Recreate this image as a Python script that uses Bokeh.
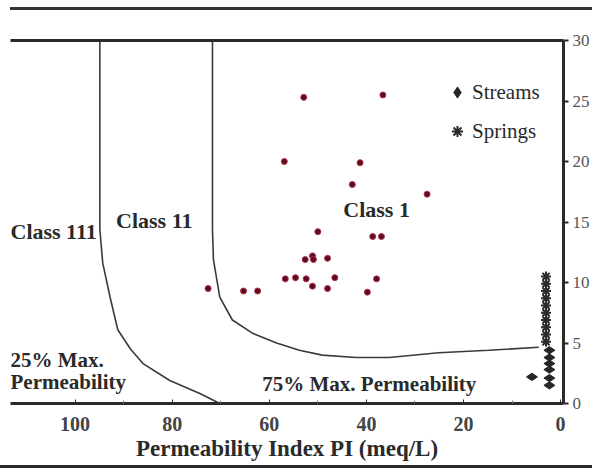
import math
from bokeh.plotting import figure
from bokeh.models import (Range1d, LinearAxis, FixedTicker, Legend, LegendItem,
                          Div, Label)
from bokeh.layouts import column
from bokeh.embed import file_html
from bokeh.resources import INLINE

# ---------------- data ----------------
# reference points (dark red dots): Permeability index PI, total concentration
ref_pi = [52.9, 36.6, 56.9, 41.3, 42.9, 27.5, 50.0, 38.7, 36.9, 51.1, 52.6, 50.9,
          48.0, 56.7, 54.6, 52.4, 51.1, 46.5, 37.9, 48.0, 39.8, 72.6, 65.3, 62.4]
ref_tc = [25.3, 25.5, 20.0, 19.9, 18.1, 17.3, 14.2, 13.8, 13.8, 12.2, 11.9, 11.9,
          12.0, 10.3, 10.4, 10.3, 9.7, 10.4, 10.3, 9.5, 9.2, 9.5, 9.3, 9.3]

streams_pi = [2.3, 2.3, 2.3, 2.3, 2.3, 2.3, 5.9]
streams_tc = [4.4, 3.8, 3.3, 2.8, 2.1, 1.5, 2.2]

springs_pi = [3.0, 3.0, 3.0, 3.0, 3.0, 3.0, 3.0, 3.0, 3.0, 3.0]
springs_tc = [10.5, 9.9, 9.3, 8.7, 8.1, 7.5, 6.9, 6.3, 5.7, 5.1]

# class boundary curves (Doneen)
curve25_pi = [94.9, 94.9, 94.3, 92.8, 91.2, 88.6, 86.0, 80.5, 74.3, 70.2]
curve25_tc = [30.0, 14.4, 11.6, 8.8, 6.1, 4.5, 3.3, 1.9, 0.83, 0.0]
curve75_pi = [71.7, 71.7, 71.5, 70.2, 67.6, 63.4, 58.5, 53.8, 49.1, 42.1, 35.3, 25.1, 14.8, 4.5]
curve75_tc = [30.0, 14.4, 11.9, 8.8, 6.9, 5.8, 5.0, 4.4, 4.0, 3.8, 3.8, 4.2, 4.4, 4.65]

x_ticks = [100, 80, 60, 40, 20, 0]
y_ticks = [0, 5, 10, 15, 20, 25, 30]

FONT = "Liberation Serif"
INK = "#2a2a2a"

p = figure(width=592, height=455, output_backend="svg", toolbar_location=None,
           x_range=Range1d(113.3, -0.6), y_range=Range1d(0, 30),
           y_axis_location="right",
           min_border_left=10, min_border_right=27, min_border_top=30, min_border_bottom=62)
p.outline_line_color = None
p.xgrid.visible = False
p.ygrid.visible = False
p.background_fill_color = "white"
p.border_fill_color = "white"

# top frame line
top_axis = LinearAxis(ticker=FixedTicker(ticks=[]), axis_line_width=3, axis_line_color=INK,
                      major_tick_line_color=None, minor_tick_line_color=None,
                      major_label_text_font_size="0px")
p.add_layout(top_axis, "above")

# bottom axis
xa = p.below[0]
xa.ticker = FixedTicker(ticks=x_ticks, minor_ticks=[90, 70, 50, 30, 10])
xa.axis_line_width = 3
xa.axis_line_color = INK
xa.major_tick_in = 4
xa.major_tick_out = 1
xa.minor_tick_in = 3
xa.minor_tick_out = 0
xa.major_tick_line_color = INK
xa.minor_tick_line_color = "#777777"
xa.major_label_text_font = FONT
xa.major_label_text_font_size = "20px"
xa.major_label_text_font_style = "bold"
xa.major_label_text_color = "#444444"
xa.major_label_standoff = 12
xa.axis_label = "Permeability Index PI (meq/L)"
xa.axis_label_text_font = FONT
xa.axis_label_text_font_size = "23px"
xa.axis_label_text_font_style = "bold"
xa.axis_label_text_color = INK
xa.axis_label_standoff = 2

# right axis
ya = p.yaxis[0]
ya.ticker = FixedTicker(ticks=y_ticks)
ya.axis_line_width = 3
ya.axis_line_color = INK
ya.major_tick_in = 0
ya.major_tick_out = 5
ya.major_tick_line_width = 2
ya.major_tick_line_color = INK
ya.minor_tick_line_color = None
ya.major_label_text_font = FONT
ya.major_label_text_font_size = "17px"
ya.major_label_text_color = "#555555"
ya.major_label_standoff = 4

# boundary curves
p.line(curve25_pi, curve25_tc, line_color="#3a3a3a", line_width=1.6)
p.line(curve75_pi, curve75_tc, line_color="#3a3a3a", line_width=1.6)

# reference dots
p.scatter(ref_pi, ref_tc, marker="circle", size=6, fill_color="#5a0c1e",
          line_color="#b3304a", line_width=1)

# data series
r_streams = p.scatter(streams_pi, streams_tc, marker="diamond", angle=math.pi / 2, size=11,
                      fill_color="#262626", line_color="#262626")
r_springs = p.scatter(springs_pi, springs_tc, marker="asterisk", size=10,
                      line_color="#2b2b2b", line_width=2)

legend = Legend(items=[LegendItem(label="Streams", renderers=[r_streams]),
                       LegendItem(label="Springs", renderers=[r_springs])],
                location=(433, 258), orientation="vertical",
                border_line_color=None, background_fill_alpha=0,
                padding=0, margin=0, spacing=11,
                glyph_width=28, glyph_height=28, label_height=28, label_standoff=1,
                label_text_font=FONT, label_text_font_size="21px", label_text_color=INK)
p.add_layout(legend)

# annotations
def lab(txt, x, y, align="center", size="21px"):
    p.add_layout(Label(x=x, y=y, text=txt, text_align=align, text_baseline="middle",
                       text_font=FONT, text_font_size=size, text_font_style="bold",
                       text_color=INK))

lab("Class 111", 113.3, 14.2, align="left", size="22px")
lab("Class 11", 83.7, 15.1, size="22px")
lab("Class 1", 37.9, 16.0, size="22px")
lab("25% Max.", 113.3, 3.6, align="left")
lab("Permeability", 113.3, 1.8, align="left")
lab("75% Max. Permeability", 39.4, 1.65)

top_rule = Div(text="", width=582, height=3, margin=(7, 0, 0, 10),
               styles={"background-color": "#333333"})
bottom_rule = Div(text="", width=592, height=3, margin=0,
                  styles={"background-color": "#2a2a2a"})

layout = column(top_rule, p, bottom_rule, spacing=0)

open("out.html", "w").write(file_html(layout, INLINE))
